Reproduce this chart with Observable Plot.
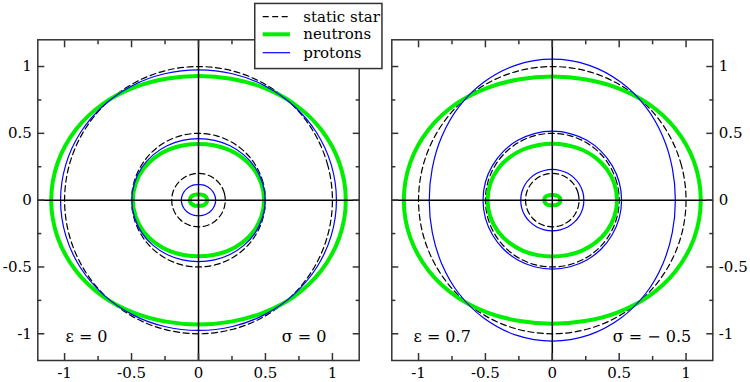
<!DOCTYPE html>
<html><head><meta charset="utf-8">
<script src="https://cdn.jsdelivr.net/npm/d3@7"></script>
<script src="https://cdn.jsdelivr.net/npm/@observablehq/plot@0.6"></script>
<style>
body{margin:0;background:#fff;}
#wrap{position:relative;width:750px;height:382px;overflow:hidden;}
#wrap > svg{position:absolute;top:0;}
</style></head><body><div id="wrap"></div>
<script>
// Angles (degrees, first quadrant) at which radii were read; shapes are symmetric about both axes
const angles = [0, 15, 30, 45, 60, 75, 90];
const staticRadii = [1, 0.5, 0.2];
const leftNeutrons = [
  [1.10, 1.088, 1.057, 1.015, 0.972, 0.941, 0.93],
  [0.49, 0.485, 0.473, 0.455, 0.438, 0.425, 0.42],
  [0.064, 0.063, 0.059, 0.053, 0.048, 0.044, 0.042]
];
const leftProtons = [
  [1.03, 1.026, 1.016, 1.002, 0.989, 0.979, 0.975],
  [0.498, 0.495, 0.489, 0.479, 0.47, 0.463, 0.46],
  [0.128, 0.127, 0.125, 0.122, 0.12, 0.118, 0.117]
];
const rightNeutrons = [
  [1.11, 1.098, 1.064, 1.018, 0.971, 0.937, 0.925],
  [0.484, 0.48, 0.469, 0.453, 0.438, 0.426, 0.422],
  [0.06, 0.059, 0.055, 0.049, 0.043, 0.039, 0.038]
];
const rightProtons = [
  [0.92, 0.929, 0.954, 0.988, 1.021, 1.046, 1.055],
  [0.518, 0.518, 0.517, 0.517, 0.517, 0.516, 0.516],
  [0.236, 0.236, 0.235, 0.233, 0.232, 0.23, 0.23]
];
const majorTicks = [-1, -0.5, 0, 0.5, 1];
const minorTicks = [-0.75, -0.25, 0.25, 0.75];
const legendLabels = ["static star", "neutrons", "protons"];
const leftNotes = ["ε = 0", "σ = 0"];
const rightNotes = ["ε = 0.7", "σ = − 0.5"];

const GREEN = "#00ee00", BLUE = "#0000ff", FRAME = "#333";
const SERIF = "'DejaVu Serif', serif";
const FS = 15;

function ring(id, radii) {
  const full = [];
  const n = angles.length;
  for (let i = 0; i < n; i++) full.push([angles[i], radii[i]]);
  for (let i = n - 2; i >= 0; i--) full.push([180 - angles[i], radii[i]]);
  for (let i = 1; i < n; i++) full.push([180 + angles[i], radii[i]]);
  for (let i = n - 2; i > 0; i--) full.push([360 - angles[i], radii[i]]);
  return full.map(([a, r]) => ({id, x: r * Math.cos(a * Math.PI / 180), y: r * Math.sin(a * Math.PI / 180)}));
}
function rings(prefix, list) {
  return list.flatMap((r, i) => ring(prefix + i, r));
}
const staticData = rings("s", staticRadii.map(r => angles.map(() => r)));

function panel(neutrons, protons, notes, side, ml, mr) {
  const fmt = d => String(d);
  return Plot.plot({
    width: 375, height: 382,
    marginLeft: ml, marginRight: mr, marginTop: 39.3, marginBottom: 22,
    x: {domain: [-1.2, 1.2], label: null},
    y: {domain: [-1.2, 1.2], label: null},
    style: {fontFamily: SERIF, fontSize: FS + "px", background: "transparent", color: "#000"},
    marks: [
      Plot.line(staticData, {x: "x", y: "y", z: "id", curve: "catmull-rom-closed", stroke: "#000", strokeWidth: 1.2, strokeDasharray: "6,3.5"}),
      Plot.line(rings("n", neutrons), {x: "x", y: "y", z: "id", curve: "catmull-rom-closed", stroke: GREEN, strokeWidth: 4}),
      Plot.line(rings("p", protons), {x: "x", y: "y", z: "id", curve: "catmull-rom-closed", stroke: BLUE, strokeWidth: 1.2}),
      Plot.ruleX([0], {stroke: "#000", strokeWidth: 1.5}),
      Plot.ruleY([0], {stroke: "#000", strokeWidth: 1.5}),
      Plot.axisX(majorTicks, {anchor: "bottom", tickSize: -7, fill: "none", stroke: FRAME, strokeWidth: 1.5, label: null}),
      Plot.axisX(minorTicks, {anchor: "bottom", tickSize: -4, fill: "none", stroke: FRAME, strokeWidth: 1.5, label: null}),
      Plot.axisX(majorTicks, {anchor: "top", tickSize: -7, fill: "none", stroke: FRAME, strokeWidth: 1.5, label: null}),
      Plot.axisX(minorTicks, {anchor: "top", tickSize: -4, fill: "none", stroke: FRAME, strokeWidth: 1.5, label: null}),
      Plot.axisY(majorTicks, {anchor: "left", tickSize: -7, fill: "none", stroke: FRAME, strokeWidth: 1.5, label: null}),
      Plot.axisY(minorTicks, {anchor: "left", tickSize: -4, fill: "none", stroke: FRAME, strokeWidth: 1.5, label: null}),
      Plot.axisY(majorTicks, {anchor: "right", tickSize: -7, fill: "none", stroke: FRAME, strokeWidth: 1.5, label: null}),
      Plot.axisY(minorTicks, {anchor: "right", tickSize: -4, fill: "none", stroke: FRAME, strokeWidth: 1.5, label: null}),
      Plot.axisX(majorTicks, {anchor: "bottom", tickSize: 0, tickPadding: 7, tickFormat: fmt, fill: "#000", fontSize: FS, fontFamily: SERIF, label: null}),
      Plot.axisY(majorTicks, {anchor: side, tickSize: 0, tickPadding: 6, tickFormat: fmt, fill: "#000", fontSize: FS, fontFamily: SERIF, label: null}),
      Plot.frame({stroke: FRAME, strokeWidth: 1.5}),
      Plot.text([notes[0]], {text: d => d, frameAnchor: "bottom-left", textAnchor: "start", lineAnchor: "bottom", dx: side === "left" ? 27.7 : 21.7, dy: -19, fontSize: FS + 1, fontFamily: SERIF, fill: "#000"}),
      Plot.text([notes[1]], {text: d => d, frameAnchor: "bottom-right", textAnchor: "end", lineAnchor: "bottom", dx: side === "left" ? -32.7 : -21.6, dy: -19, fontSize: FS + 1, fontFamily: SERIF, fill: "#000"})
    ]
  });
}

const wrap = document.getElementById("wrap");
const p1 = panel(leftNeutrons, leftProtons, leftNotes, "left", 37.3, 16.3);
p1.style.left = "0px";
wrap.appendChild(p1);
const p2 = panel(rightNeutrons, rightProtons, rightNotes, "right", 16.3, 37.7);
p2.style.left = "375px";
wrap.appendChild(p2);

// Legend overlay
const leg = d3.select(wrap).append("svg").attr("width", 750).attr("height", 382).style("left", "0px").style("pointer-events", "none");
leg.append("rect").attr("x", 254.75).attr("y", 3.45).attr("width", 127.2).attr("height", 65.1)
  .attr("fill", "#fff").attr("stroke", FRAME).attr("stroke-width", 1.5);
const legStyles = [
  {stroke: "#000", width: 1.2, dash: "6,3.5"},
  {stroke: GREEN, width: 4, dash: null},
  {stroke: BLUE, width: 1.2, dash: null}
];
const legY = [16.7, 34.3, 52.7];
legendLabels.forEach((lab, i) => {
  const s = legStyles[i];
  leg.append("line").attr("x1", 262.7).attr("x2", 290).attr("y1", legY[i]).attr("y2", legY[i])
    .attr("stroke", s.stroke).attr("stroke-width", s.width).attr("stroke-dasharray", s.dash);
  leg.append("text").attr("x", 303.3).attr("y", legY[i] + 5).text(lab)
    .attr("font-family", SERIF).attr("font-size", FS).attr("fill", "#000");
});
</script></body></html>
